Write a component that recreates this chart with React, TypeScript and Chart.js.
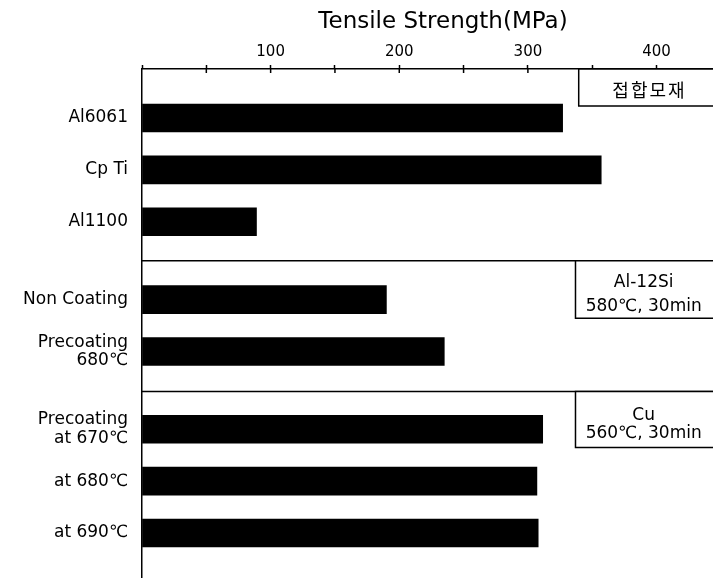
import React, { useEffect, useRef } from "react";
import { Chart, registerables } from "chart.js";

Chart.register(...registerables);

// ---- data ----
const categories: string[][] = [
  ["Al6061"],
  ["Cp Ti"],
  ["Al1100"],
  ["Non Coating"],
  ["Precoating", "680℃"],
  ["Precoating", "at 670℃"],
  ["at 680℃"],
  ["at 690℃"],
];
const positions = [1, 2, 3, 4.5, 5.5, 7, 8, 9];
const strengths = [327, 357, 89, 190, 235, 311.5, 307, 308];
const xTickLabels = [100, 200, 300, 400];
const groupNotes: string[][] = [
  ["접합모재"],
  ["Al-12Si", "580℃, 30min"],
  ["Cu", "560℃, 30min"],
];
const groupBreaks = [3.75, 6.27];

const Y_MIN = 0.055;
const Y_MAX = 9.867;
const X_MAX = 468;

// geometry of the note boxes (data units)
const noteBoxes = [
  { x0: 339.5, y0: Y_MIN, y1: 0.77, tx: 394.5, ty: 0.5, gap: 18 },
  { x0: 337, y0: 3.75, y1: 4.86, tx: 390, ty: 4.41, gap: 24 },
  { x0: 337, y0: 6.27, y1: 7.35, tx: 390, ty: 6.9, gap: 18 },
];

const FONT = '"DejaVu Sans", "Noto Sans CJK KR", sans-serif';

const groupPlugin = {
  id: "groups",
  afterDatasetsDraw(chart: any) {
    const { ctx, chartArea, scales } = chart;
    const xs = scales.x;
    const ys = scales.y;
    ctx.save();
    ctx.strokeStyle = "#000";
    ctx.lineWidth = 1.5;
    // tick marks continuing below the top axis line
    xs.ticks.forEach((t: any) => {
      const x = xs.getPixelForValue(t.value);
      if (x <= chartArea.left + 1) return;
      ctx.beginPath();
      ctx.moveTo(x, chartArea.top);
      ctx.lineTo(x, chartArea.top + 4);
      ctx.stroke();
    });
    groupBreaks.forEach((b) => {
      const y = ys.getPixelForValue(b);
      ctx.beginPath();
      ctx.moveTo(chartArea.left, y);
      ctx.lineTo(chartArea.right, y);
      ctx.stroke();
    });
    noteBoxes.forEach((bx, i) => {
      const left = xs.getPixelForValue(bx.x0);
      const top = ys.getPixelForValue(bx.y0);
      const bottom = ys.getPixelForValue(bx.y1);
      const right = chartArea.right + 10;
      ctx.fillStyle = "#fff";
      ctx.fillRect(left, top, right - left, bottom - top);
      ctx.beginPath();
      ctx.moveTo(right, top);
      ctx.lineTo(left, top);
      ctx.lineTo(left, bottom);
      ctx.lineTo(right, bottom);
      ctx.stroke();
      const lines = groupNotes[i];
      const cx = xs.getPixelForValue(bx.tx);
      const cy = ys.getPixelForValue(bx.ty);
      ctx.fillStyle = "#000";
      ctx.textAlign = "center";
      ctx.textBaseline = "middle";
      ctx.font = (i === 0 ? "18px " : "17px ") + FONT;
      (ctx as any).letterSpacing = i === 0 ? "2px" : "0px";
      lines.forEach((t, j) => {
        const y = cy + (j - (lines.length - 1) / 2) * bx.gap;
        ctx.fillText(t, cx, y);
      });
      (ctx as any).letterSpacing = "0px";
    });
    ctx.restore();
  },
};

export default function App() {
  const ref = useRef<HTMLCanvasElement | null>(null);
  useEffect(() => {
    if (!ref.current) return;
    Chart.defaults.font.family = FONT;
    Chart.defaults.color = "#000";
    const chart = new Chart(ref.current, {
      type: "bar",
      data: {
        datasets: [
          {
            data: positions.map((p, i) => ({ x: strengths[i], y: p })),
            backgroundColor: "#000",
            borderWidth: 0,
            barThickness: 28,
          } as any,
        ],
      },
      options: {
        indexAxis: "y",
        animation: false,
        responsive: false,
        devicePixelRatio: 1,
        layout: { padding: 0 },
        plugins: {
          legend: { display: false },
          tooltip: { enabled: false },
          title: { display: false },
        },
        scales: {
          x: {
            type: "linear",
            position: "top",
            min: 0,
            max: X_MAX,
            afterFit: (s: any) => {
              s.height = 69;
              s.paddingLeft = 0;
              s.paddingRight = 0;
            },
            ticks: {
              stepSize: 50,
              includeBounds: false,
              autoSkip: false,
              maxRotation: 0,
              padding: 4,
              color: "#000",
              font: { size: 15, family: FONT },
              callback: (v: any) =>
                xTickLabels.includes(Number(v)) ? String(v) : "",
            },
            grid: {
              drawOnChartArea: false,
              drawTicks: true,
              tickLength: 4,
              tickWidth: 1.5,
              color: "#000",
            },
            border: { display: true, color: "#000", width: 1.5 },
            title: {
              display: true,
              text: "Tensile Strength(MPa)",
              color: "#000",
              font: { size: 23, family: FONT },
              padding: { top: 8, bottom: 0 },
            },
          },
          y: {
            type: "linear",
            reverse: true,
            offset: false,
            min: Y_MIN,
            max: Y_MAX,
            afterFit: (s: any) => {
              s.width = 142;
              s.paddingTop = 0;
              s.paddingBottom = 0;
            },
            afterBuildTicks: (s: any) => {
              s.ticks = positions.map((p) => ({ value: p }));
            },
            ticks: {
              autoSkip: false,
              padding: 14,
              color: "#000",
              font: { size: 17, family: FONT, lineHeight: 1.1 },
              callback: (v: any) => {
                const i = positions.indexOf(Number(v));
                return i >= 0 ? categories[i] : "";
              },
            },
            grid: { display: false, drawTicks: false, offset: false },
            border: { display: true, color: "#000", width: 1.5 },
          },
        },
      } as any,
      plugins: [groupPlugin],
    });
    return () => chart.destroy();
  }, []);
  return (
    <div
      style={{
        position: "fixed",
        left: 0,
        top: 0,
        width: 713,
        height: 578,
        overflow: "hidden",
        background: "#fff",
      }}
    >
      <canvas ref={ref} width={744} height={578} style={{ display: "block" }} />
    </div>
  );
}
